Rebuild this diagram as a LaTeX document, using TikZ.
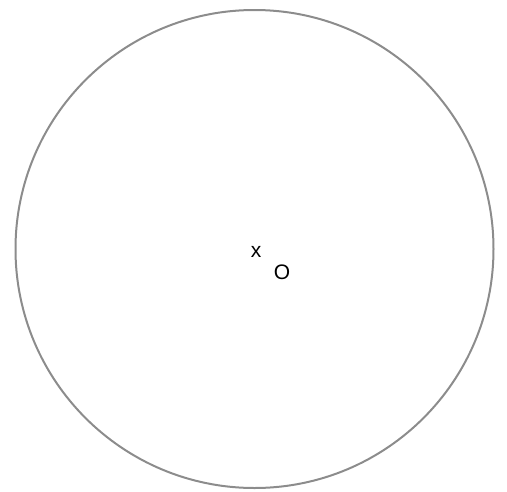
\documentclass[tikz,border=0pt]{standalone}
\usepackage{fontspec}
\setmainfont{Liberation Sans}
\begin{document}
\begin{tikzpicture}[x=1pt,y=-1pt,
  ring/.style={draw=black!45, line width=2pt},
  lbl/.style={inner sep=0pt, font=\fontsize{21}{25}\selectfont}]
\useasboundingbox (0,0) rectangle (507,491);
\node[ring, circle, minimum size=478pt, inner sep=0pt] (c) at (254.5,249) {};
\node[lbl] (x) at (256,252) {x};
\node[lbl] (o) at (282,272) {O};
\end{tikzpicture}
\end{document}
